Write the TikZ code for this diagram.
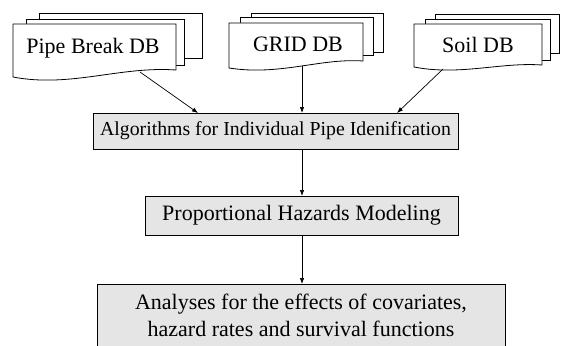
\documentclass[tikz,border=0pt]{standalone}
\usepackage{fontspec}
\setmainfont{Liberation Serif}
\newfontfamily\diagfont{Liberation Serif}
\usetikzlibrary{arrows.meta}
\begin{document}
\begin{tikzpicture}[x=1pt,y=-1pt,
  page/.style={draw=black,line width=0.8pt,fill=white},
  lbl/.style={font=\diagfont\fontsize{22}{27}\selectfont, inner sep=0pt},
  procbox/.style={draw=black,line width=0.8pt,fill=black!10,
    font=\diagfont\fontsize{22}{27}\selectfont, inner sep=0pt, anchor=center},
  conn/.style={line width=0.7pt,-{Latex[length=6pt,width=4.5pt]}}]
\useasboundingbox (0,0) rectangle (564,345);

% Pipe Break DB
\draw[page] (39,13) rectangle (202,58);
\draw[page] (26,19) rectangle (184,65);
\draw[page] (13,24) -- (176,24) -- (176,70)
  .. controls (120,66) and (70,88) .. (13,77) -- cycle;
\node[lbl] (pb) at (93,48) {Pipe Break DB};

% GRID DB
\draw[page] (251,13) rectangle (383,52);
\draw[page] (240,17) rectangle (373,55);
\draw[page] (229,23) -- (363,23) -- (363,61)
  .. controls (320,58) and (280,76) .. (229,68) -- cycle;
\node[lbl] (grid) at (298,44) {GRID DB};

% Soil DB
\draw[page] (435,14) rectangle (559,53);
\draw[page] (425,19) rectangle (550,60);
\draw[page] (414,24) -- (542,24) -- (542,65)
  .. controls (500,62) and (460,76) .. (414,67) -- cycle;
\node[lbl] (soil) at (478,45) {Soil DB};

% process boxes
\node[procbox, minimum width=365pt, minimum height=36pt,
  font=\diagfont\fontsize{19.8}{24}\selectfont] (alg) at (275.5,131)
  {Algorithms for Individual Pipe Idenification};
\node[procbox, minimum width=313pt, minimum height=39pt] (prop) at (301.5,215.5)
  {Proportional Hazards Modeling};

% analyses box (open at the bottom)
\fill[black!10] (97,284) rectangle (505,350);
\draw[line width=0.8pt] (97,350) -- (97,284) -- (505,284) -- (505,350);
\node[lbl, align=center] (ana) at (301,315)
  {Analyses for the effects of covariates,\\hazard rates and survival functions};

% connector end points
\coordinate (pbout) at (140,72);
\coordinate (gridout) at (302,66);
\coordinate (soilout) at (443,69);
\coordinate (algin1) at (198,113);
\coordinate (algin2) at (302,113);
\coordinate (algin3) at (397,113);
\coordinate (algout) at (302,149);
\coordinate (propin) at (302,196);
\coordinate (propout) at (302,235);
\coordinate (anain) at (302,284);

\draw[conn] (pbout) -- (algin1);
\draw[conn] (gridout) -- (algin2);
\draw[conn] (soilout) -- (algin3);
\draw[conn] (algout) -- (propin);
\draw[conn] (propout) -- (anain);
\end{tikzpicture}
\end{document}
